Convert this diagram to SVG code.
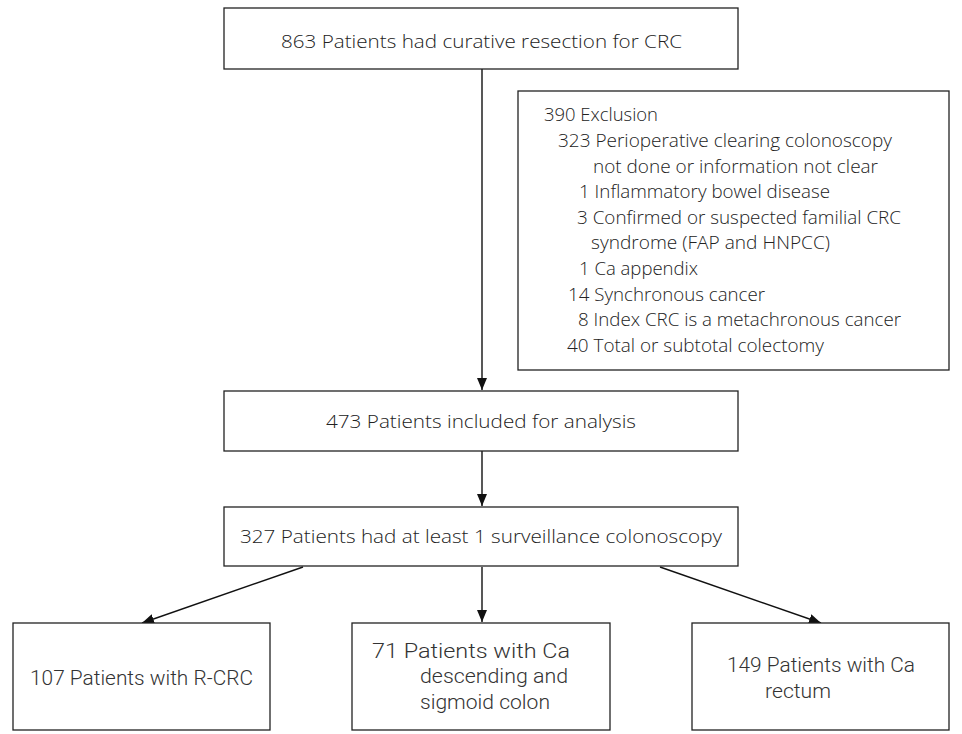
<svg xmlns="http://www.w3.org/2000/svg" width="962" height="734" viewBox="0 0 962 734">
<style>
.box{fill:#fff;stroke:#222;stroke-width:1.3}
.t{font-family:"Open Sans","Noto Sans","Liberation Sans",sans-serif;font-weight:300;font-size:19px;fill:#222}
.n{font-family:"Roboto","Liberation Sans",sans-serif;font-weight:300;font-size:21px;fill:#333}
.c{stroke:#111;stroke-width:1.4;fill:none}
</style>
<defs>
<marker id="ah" viewBox="0 0 12 10" refX="12" refY="5" markerWidth="12" markerHeight="10" markerUnits="userSpaceOnUse" orient="auto">
<path d="M0,0 L12,5 L0,10 z" fill="#111"/>
</marker>
</defs>
<rect width="962" height="734" fill="#fff"/>
<g id="connectors">
<line class="c" x1="482" y1="69" x2="482" y2="390" marker-end="url(#ah)"/>
<line class="c" x1="482" y1="451" x2="482" y2="506" marker-end="url(#ah)"/>
<line class="c" x1="303" y1="567" x2="142" y2="623" marker-end="url(#ah)"/>
<line class="c" x1="482" y1="567" x2="482" y2="622" marker-end="url(#ah)"/>
<line class="c" x1="660" y1="567" x2="821" y2="623" marker-end="url(#ah)"/>
</g>
<g id="n863">
<rect class="box" x="224" y="8" width="514" height="61"/>
<text class="t" x="281" y="48" textLength="401" lengthAdjust="spacingAndGlyphs">863 Patients had curative resection for CRC</text>
</g>
<g id="exclusion">
<rect class="box" x="518" y="91" width="431" height="279"/>
<text class="t" x="544" y="121" textLength="114" lengthAdjust="spacingAndGlyphs">390 Exclusion</text>
<text class="t" x="558" y="147" textLength="334" lengthAdjust="spacingAndGlyphs">323 Perioperative clearing colonoscopy</text>
<text class="t" x="593" y="173" textLength="285" lengthAdjust="spacingAndGlyphs">not done or information not clear</text>
<text class="t" x="579" y="198" textLength="251" lengthAdjust="spacingAndGlyphs">1 Inflammatory bowel disease</text>
<text class="t" x="577" y="224" textLength="324" lengthAdjust="spacingAndGlyphs">3 Confirmed or suspected familial CRC</text>
<text class="t" x="591" y="249" textLength="239" lengthAdjust="spacingAndGlyphs">syndrome (FAP and HNPCC)</text>
<text class="t" x="579" y="275" textLength="119" lengthAdjust="spacingAndGlyphs">1 Ca appendix</text>
<text class="t" x="568" y="301" textLength="197" lengthAdjust="spacingAndGlyphs">14 Synchronous cancer</text>
<text class="t" x="578" y="326" textLength="323" lengthAdjust="spacingAndGlyphs">8 Index CRC is a metachronous cancer</text>
<text class="t" x="567" y="352" textLength="257" lengthAdjust="spacingAndGlyphs">40 Total or subtotal colectomy</text>
</g>
<g id="n473">
<rect class="box" x="224" y="391" width="514" height="60"/>
<text class="t" x="326" y="428" textLength="310" lengthAdjust="spacingAndGlyphs">473 Patients included for analysis</text>
</g>
<g id="n327">
<rect class="box" x="224" y="507" width="514" height="59"/>
<text class="t" x="240" y="543" textLength="482" lengthAdjust="spacingAndGlyphs">327 Patients had at least 1 surveillance colonoscopy</text>
</g>
<g id="n107">
<rect class="box" x="13" y="623" width="257" height="107"/>
<text class="n" x="30" y="685" textLength="223" lengthAdjust="spacingAndGlyphs">107 Patients with R-CRC</text>
</g>
<g id="n71">
<rect class="box" x="352" y="623" width="258" height="107"/>
<text class="n" x="372" y="658" textLength="198" lengthAdjust="spacingAndGlyphs">71 Patients with Ca</text>
<text class="n" x="420" y="683" textLength="148" lengthAdjust="spacingAndGlyphs">descending and</text>
<text class="n" x="420" y="709" textLength="130" lengthAdjust="spacingAndGlyphs">sigmoid colon</text>
</g>
<g id="n149">
<rect class="box" x="692" y="623" width="257" height="107"/>
<text class="n" x="727" y="672" textLength="188" lengthAdjust="spacingAndGlyphs">149 Patients with Ca</text>
<text class="n" x="765" y="698" textLength="66" lengthAdjust="spacingAndGlyphs">rectum</text>
</g>
</svg>
